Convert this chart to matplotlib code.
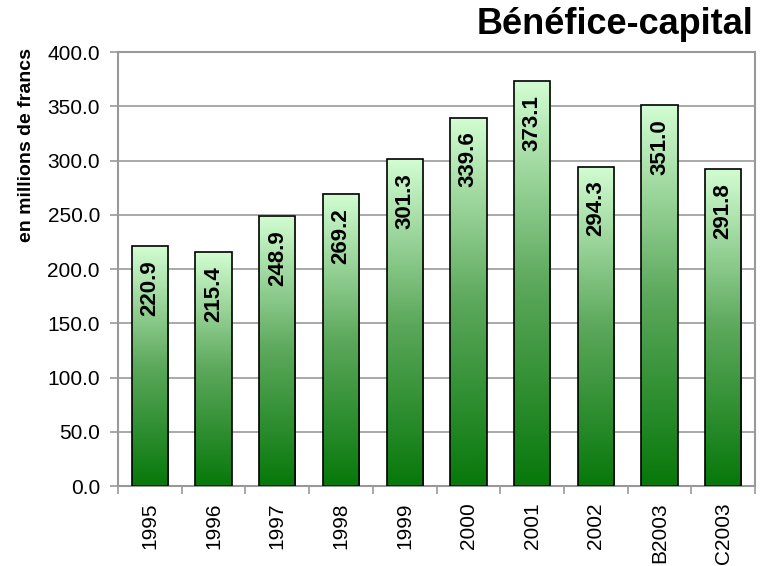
import numpy as np
import matplotlib.pyplot as plt
from matplotlib.colors import LinearSegmentedColormap

plt.rcParams.update({
    "font.family": "Liberation Sans",
    "font.size": 14,
})

years = ["1995", "1996", "1997", "1998", "1999", "2000", "2001", "2002", "B2003", "C2003"]
values = [220.9, 215.4, 248.9, 269.2, 301.3, 339.6, 373.1, 294.3, 351.0, 291.8]

fig = plt.figure(figsize=(7.74, 5.66), dpi=100)
ax = fig.add_axes([0.1525, 0.1413, 0.8230, 0.7667])

# light at the top of each bar, dark green at the base
cmap = LinearSegmentedColormap.from_list("grn", ["#07780a", "#5ca85c", "#d2fdd2"])
grad = np.linspace(0, 1, 256).reshape(-1, 1)

x = np.arange(len(years))
width = 0.57
for xi, v in zip(x, values):
    ax.imshow(grad, cmap=cmap, aspect="auto", origin="lower",
              extent=(xi - width / 2, xi + width / 2, 0, v), zorder=2)
    ax.bar(xi, v, width=width, facecolor="none", edgecolor="black", linewidth=1.2, zorder=3)
    ax.annotate(f"{v:.1f}", xy=(xi, v), xytext=(0, -10), textcoords="offset points",
                rotation=90, ha="center", va="top",
                fontsize=16, fontweight="bold", zorder=4)

ax.set_xlim(-0.5, len(years) - 0.5)
ax.set_ylim(0, 400)
ax.set_yticks(np.arange(0, 401, 50))
ax.set_yticklabels([f"{t:.1f}" for t in np.arange(0, 401, 50)], fontsize=15)
ax.set_xticks(x)
ax.set_xticklabels(years, rotation=90, fontsize=15)
ax.set_xticks(np.arange(-0.5, len(years)), minor=True)
ax.tick_params(axis="x", which="major", length=0, pad=12)
ax.tick_params(axis="x", which="minor", length=6, color="#999999", width=1.2)
ax.tick_params(axis="y", length=6, color="#999999", width=1.2, pad=7)

ax.grid(axis="y", color="#999999", linewidth=1.2, zorder=0)
ax.set_axisbelow(True)
for s in ax.spines.values():
    s.set_color("#999999")
    s.set_linewidth(1.5)

fig.text(27 / 774, 1 - 145 / 566, "en millions de francs", rotation=90,
         ha="center", va="center", fontsize=14, fontweight="bold")
fig.text(0.973, 0.987, "Bénéfice-capital", ha="right", va="top", fontsize=26, fontweight="bold")

fig.savefig("out.png", dpi=100)
